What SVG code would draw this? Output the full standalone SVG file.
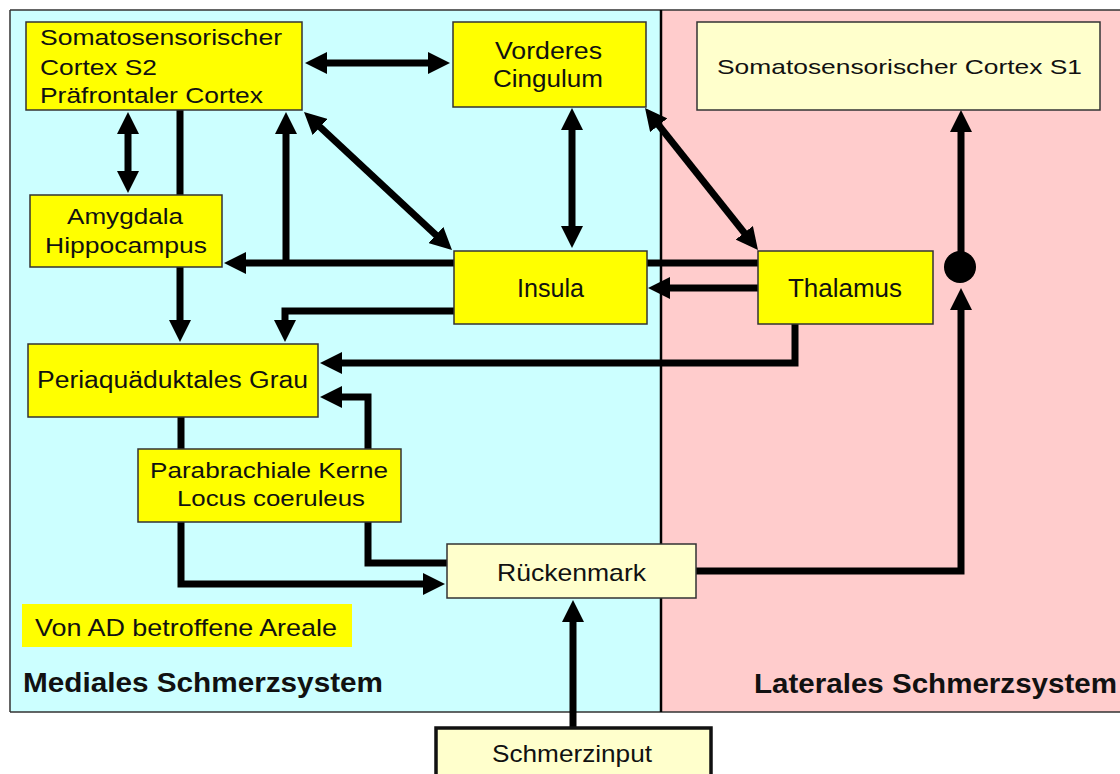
<svg xmlns="http://www.w3.org/2000/svg" width="1120" height="774" viewBox="0 0 1120 774">
  <defs>
    <marker id="ah" viewBox="0 0 22 22" markerWidth="22" markerHeight="22" refX="10" refY="11" markerUnits="userSpaceOnUse" orient="auto-start-reverse">
      <path d="M0,0 L22,11 L0,22 z" fill="#000"/>
    </marker>
    <style>
      .box { fill: #ffff00; stroke: #333; stroke-width: 1.5; }
      .lbox { fill: #ffffcc; stroke: #333; stroke-width: 1.5; }
      .t { font-family: "Liberation Sans", Arial, sans-serif; font-size: 22px; fill: #111; }
      .tb { font-family: "Liberation Sans", Arial, sans-serif; font-size: 28px; font-weight: bold; fill: #111; }
      .c { fill: none; stroke: #000; stroke-width: 7; stroke-linejoin: miter; }
      .a { marker-end: url(#ah); }
      .d { marker-start: url(#ah); marker-end: url(#ah); }
    </style>
  </defs>
  <rect width="1120" height="774" fill="#fff"/>
  <g id="panels">
    <rect x="10" y="10" width="651" height="702" fill="#ccffff"/>
    <rect x="661" y="10" width="470" height="702" fill="#ffcccc"/>
    <path d="M10,10 H1120 M10,712 H1120 M10,10 V712" stroke="#333" stroke-width="1.5" fill="none"/>
    <path d="M661,10 V712" stroke="#000" stroke-width="2.5"/>
    <text class="tb" x="23" y="692" textLength="360" lengthAdjust="spacingAndGlyphs">Mediales Schmerzsystem</text>
    <text class="tb" x="754" y="693" textLength="363" lengthAdjust="spacingAndGlyphs">Laterales Schmerzsystem</text>
  </g>
  <g id="connectors">
    <path class="c d" d="M317,63 L438,63"/>
    <path class="c d" d="M128,124 L128,181"/>
    <path class="c a" d="M180,110 L180,330"/>
    <path class="c a" d="M758,263 L236,263"/>
    <path class="c a" d="M286,266 L286,124"/>
    <path class="c d" d="M312.8,120.2 L443.2,241.8"/>
    <path class="c d" d="M572,120 L572,236"/>
    <path class="c d" d="M652.5,117.4 L750.5,240.6"/>
    <path class="c a" d="M758,288 L660,288"/>
    <path class="c a" d="M454,311 L285,311 L285,330"/>
    <path class="c a" d="M795,324 L795,363 L332,363"/>
    <path class="c a" d="M447,563 L368,563 L368,397 L332,397"/>
    <path class="c a" d="M181,417 L181,584 L433,584"/>
    <path class="c a" d="M696,571 L961,571 L961,300"/>
    <path class="c a" d="M961,267 L961,122"/>
    <circle cx="960" cy="267" r="16" fill="#000"/>
    <path class="c a" d="M573,727 L573,612"/>
  </g>
  <g id="n-s2">
    <rect class="box" x="26" y="22" width="276" height="88"/>
    <text class="t" x="40" y="45" textLength="242" lengthAdjust="spacingAndGlyphs">Somatosensorischer</text>
    <text class="t" x="40" y="75" textLength="117" lengthAdjust="spacingAndGlyphs">Cortex S2</text>
    <text class="t" x="40" y="103" textLength="223" lengthAdjust="spacingAndGlyphs">Präfrontaler Cortex</text>
  </g>
  <g id="n-cingulum">
    <rect class="box" x="453" y="22" width="193" height="85"/>
    <text class="t" x="495" y="59" textLength="107" lengthAdjust="spacingAndGlyphs" style="font-size:23px">Vorderes</text>
    <text class="t" x="493" y="87" textLength="110" lengthAdjust="spacingAndGlyphs" style="font-size:23px">Cingulum</text>
  </g>
  <g id="n-s1">
    <rect class="lbox" x="697" y="22" width="403" height="88"/>
    <text class="t" x="717" y="74" textLength="365" lengthAdjust="spacingAndGlyphs" style="font-size:21px">Somatosensorischer Cortex S1</text>
  </g>
  <g id="n-amygdala">
    <rect class="box" x="30" y="195" width="192" height="72"/>
    <text class="t" x="67" y="224" textLength="116" lengthAdjust="spacingAndGlyphs">Amygdala</text>
    <text class="t" x="45" y="253" textLength="162" lengthAdjust="spacingAndGlyphs">Hippocampus</text>
  </g>
  <g id="n-insula">
    <rect class="box" x="454" y="251" width="193" height="73"/>
    <text class="t" x="517" y="297" textLength="67" lengthAdjust="spacingAndGlyphs" style="font-size:25px">Insula</text>
  </g>
  <g id="n-thalamus">
    <rect class="box" x="758" y="251" width="175" height="73"/>
    <text class="t" x="788" y="297" textLength="114" lengthAdjust="spacingAndGlyphs" style="font-size:25px">Thalamus</text>
  </g>
  <g id="n-pag">
    <rect class="box" x="28" y="344" width="290" height="73"/>
    <text class="t" x="37" y="388" textLength="271" lengthAdjust="spacingAndGlyphs" style="font-size:23px">Periaquäduktales Grau</text>
  </g>
  <g id="n-parabrachial">
    <rect class="box" x="138" y="449" width="263" height="73"/>
    <text class="t" x="150" y="478" textLength="238" lengthAdjust="spacingAndGlyphs">Parabrachiale Kerne</text>
    <text class="t" x="177" y="506" textLength="188" lengthAdjust="spacingAndGlyphs">Locus coeruleus</text>
  </g>
  <g id="n-rueckenmark">
    <rect class="lbox" x="447" y="544" width="249" height="54"/>
    <text class="t" x="497" y="581" textLength="149" lengthAdjust="spacingAndGlyphs" style="font-size:24px">Rückenmark</text>
  </g>
  <g id="n-schmerzinput">
    <rect class="lbox" x="436" y="728" width="275" height="60" style="stroke:#111;stroke-width:3.5"/>
    <text class="t" x="492" y="762" textLength="160" lengthAdjust="spacingAndGlyphs" style="font-size:24px">Schmerzinput</text>
  </g>
  <g id="legend">
    <rect x="22" y="604" width="330" height="43" fill="#ffff00"/>
    <text class="t" x="35" y="636" textLength="302" lengthAdjust="spacingAndGlyphs" style="font-size:24px">Von AD betroffene Areale</text>
  </g>
</svg>
